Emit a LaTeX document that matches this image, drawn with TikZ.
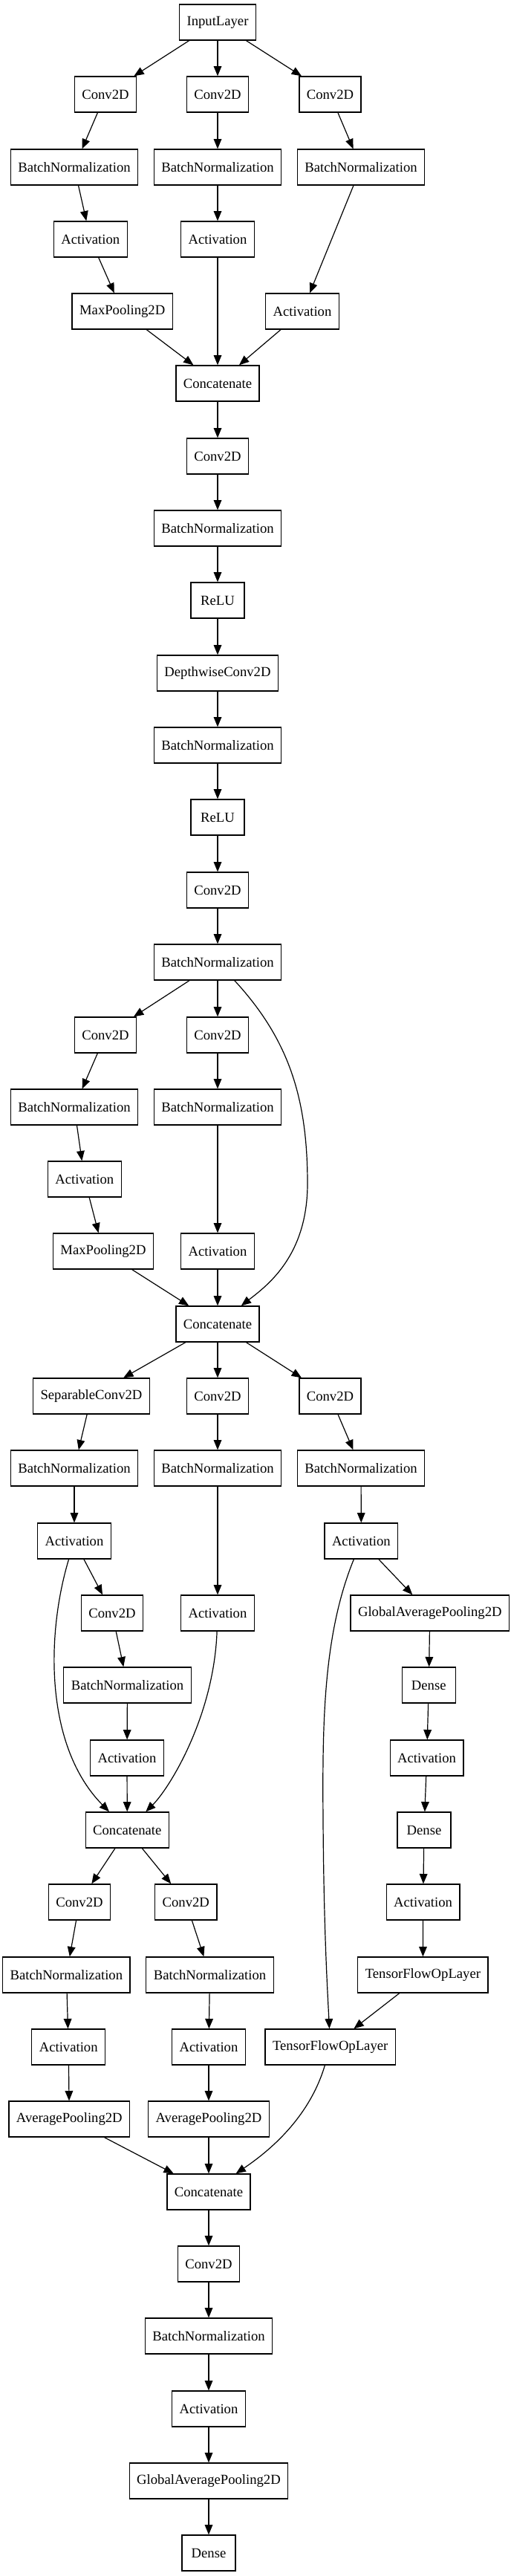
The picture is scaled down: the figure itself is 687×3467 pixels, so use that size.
\documentclass[tikz,border=0pt]{standalone}
\usepackage{fontspec}
\setmainfont{Liberation Serif}
\usetikzlibrary{arrows.meta}

\begin{document}
\begin{tikzpicture}[x=0.75pt,y=-0.75pt,
  layer/.style={draw,line width=1pt,minimum height=36pt,minimum width=54pt,
    inner xsep=7.5pt,inner ysep=2pt,font=\fontsize{14}{16}\selectfont},
  flow/.style={-{Triangle[length=10pt,width=8pt]},line width=0.9pt}]
\useasboundingbox (0,0) rectangle (687,3467);

% stem block
\node[layer] (inp) at (293,30) {InputLayer};
\node[layer] (cv1a) at (142,127) {Conv2D};
\node[layer] (cv1b) at (293,127) {Conv2D};
\node[layer] (cv1c) at (444.5,127) {Conv2D};
\node[layer] (bn1a) at (100,225) {BatchNormalization};
\node[layer] (bn1b) at (293,225) {BatchNormalization};
\node[layer] (bn1c) at (486,225) {BatchNormalization};
\node[layer] (ac1a) at (121.8,322) {Activation};
\node[layer] (ac1b) at (293,322) {Activation};
\node[layer] (mp1) at (164.7,419) {MaxPooling2D};
\node[layer] (ac1c) at (407,419) {Activation};
\node[layer] (cat1) at (293,516) {Concatenate};

% straight chain
\node[layer] (cv2) at (293,614) {Conv2D};
\node[layer] (bn2) at (293,711) {BatchNormalization};
\node[layer] (relu1) at (293,808) {ReLU};
\node[layer] (dw) at (293,906) {DepthwiseConv2D};
\node[layer] (bn3) at (293,1003) {BatchNormalization};
\node[layer] (relu2) at (293,1100) {ReLU};
\node[layer] (cv3) at (293,1198) {Conv2D};
\node[layer] (bn4) at (293,1295) {BatchNormalization};

% second block
\node[layer] (cv4a) at (142,1393) {Conv2D};
\node[layer] (cv4b) at (293,1393) {Conv2D};
\node[layer] (bn4a) at (100,1490) {BatchNormalization};
\node[layer] (bn4b) at (293,1490) {BatchNormalization};
\node[layer] (ac4a) at (113.8,1587) {Activation};
\node[layer] (mp4) at (139,1684) {MaxPooling2D};
\node[layer] (ac4b) at (293,1684) {Activation};
\node[layer] (cat4) at (293,1782) {Concatenate};

% third block
\node[layer] (sep) at (123,1879) {SeparableConv2D};
\node[layer] (cv5b) at (293,1879) {Conv2D};
\node[layer] (cv5c) at (444.5,1879) {Conv2D};
\node[layer] (bn5a) at (100,1976) {BatchNormalization};
\node[layer] (bn5b) at (293,1976) {BatchNormalization};
\node[layer] (bn5c) at (486,1976) {BatchNormalization};
\node[layer] (ac5a) at (100,2074) {Activation};
\node[layer] (ac5c) at (486.4,2074) {Activation};
\node[layer] (cv6) at (151,2171) {Conv2D};
\node[layer] (ac5b) at (293,2171) {Activation};
\node[layer] (gap1) at (578.8,2171) {GlobalAveragePooling2D};
\node[layer] (bn6) at (171.5,2268) {BatchNormalization};
\node[layer] (fc1) at (577.3,2268) {Dense};
\node[layer] (ac6) at (171,2366) {Activation};
\node[layer] (ac7) at (574.6,2366) {Activation};
\node[layer] (cat6) at (171.3,2463) {Concatenate};
\node[layer] (fc2) at (571,2463) {Dense};
\node[layer] (cv7a) at (107,2560) {Conv2D};
\node[layer] (cv7b) at (250.3,2560) {Conv2D};
\node[layer] (ac8) at (569.6,2560) {Activation};
\node[layer] (bn7a) at (89.4,2658) {BatchNormalization};
\node[layer] (bn7b) at (282.5,2658) {BatchNormalization};
\node[layer] (tf1) at (569.4,2658) {TensorFlowOpLayer};
\node[layer] (ac7a) at (92.2,2755) {Activation};
\node[layer] (ac7b) at (281,2755) {Activation};
\node[layer] (tf2) at (444.7,2755) {TensorFlowOpLayer};
\node[layer] (ap7a) at (93.3,2852) {AveragePooling2D};
\node[layer] (ap7b) at (281,2852) {AveragePooling2D};
\node[layer] (cat7) at (281,2950) {Concatenate};

% head
\node[layer] (cv8) at (281,3047) {Conv2D};
\node[layer] (bn8) at (281,3144) {BatchNormalization};
\node[layer] (ac9) at (281,3242) {Activation};
\node[layer] (gap2) at (281,3339) {GlobalAveragePooling2D};
\node[layer] (fc3) at (281,3436) {Dense};

% straight edges
\foreach \a/\b in {inp/cv1a,inp/cv1b,inp/cv1c,cv1a/bn1a,cv1b/bn1b,cv1c/bn1c,
    bn1a/ac1a,bn1b/ac1b,bn1c/ac1c,ac1a/mp1,mp1/cat1,ac1b/cat1,ac1c/cat1,
    cat1/cv2,cv2/bn2,bn2/relu1,relu1/dw,dw/bn3,bn3/relu2,relu2/cv3,cv3/bn4,
    bn4/cv4a,bn4/cv4b,cv4a/bn4a,cv4b/bn4b,bn4a/ac4a,bn4b/ac4b,ac4a/mp4,
    mp4/cat4,ac4b/cat4,cat4/sep,cat4/cv5b,cat4/cv5c,sep/bn5a,cv5b/bn5b,
    cv5c/bn5c,bn5a/ac5a,bn5b/ac5b,bn5c/ac5c,ac5a/cv6,cv6/bn6,bn6/ac6,
    ac6/cat6,ac5c/gap1,gap1/fc1,fc1/ac7,ac7/fc2,fc2/ac8,ac8/tf1,tf1/tf2,
    cat6/cv7a,cat6/cv7b,cv7a/bn7a,cv7b/bn7b,bn7a/ac7a,bn7b/ac7b,
    ac7a/ap7a,ac7b/ap7b,ap7a/cat7,ap7b/cat7,
    cat7/cv8,cv8/bn8,bn8/ac9,ac9/gap2,gap2/fc3}
  \draw[flow] (\a) -- (\b);

% bent edges
\draw[flow] (bn4) .. controls (390,1400) and (414,1480) .. (414,1593)
  .. controls (414,1690) and (360,1730) .. (cat4);
\draw[flow] (ac5a) .. controls (62,2200) and (60,2350) .. (cat6);
\draw[flow] (ac5b) .. controls (288,2310) and (228,2407) .. (cat6);
\draw[flow] (ac5c) .. controls (435,2200) and (434,2320) .. (435,2450)
  .. controls (436,2600) and (441,2680) .. (tf2);
\draw[flow] (tf2) .. controls (418,2845) and (370,2890) .. (cat7);

\end{tikzpicture}
\end{document}
